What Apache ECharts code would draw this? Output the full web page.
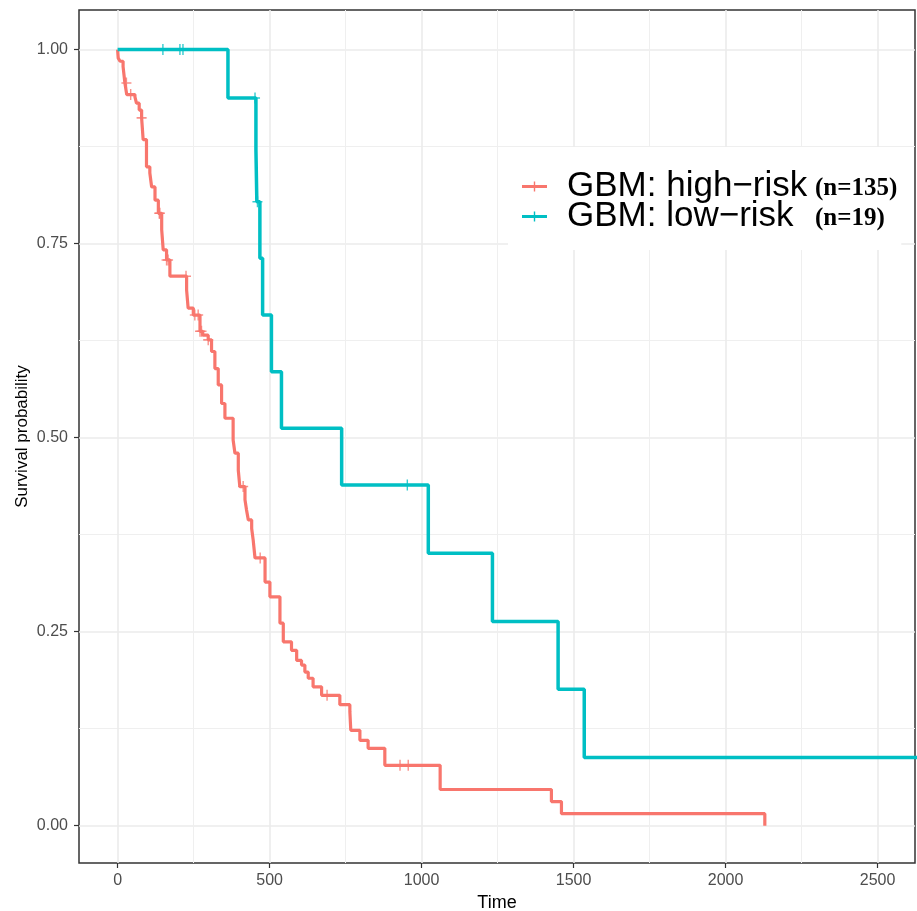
<!DOCTYPE html>
<html>
<head>
<meta charset="utf-8">
<script src="https://cdn.jsdelivr.net/npm/echarts@6/dist/echarts.min.js"></script>
<style>
  html, body { margin: 0; padding: 0; background: #fff; }
  #km { width: 917px; height: 911px; }
</style>
</head>
<body>
<div id="km"></div>
<script>
// axis ticks (major + ggplot-style minor grid)
const timeTicks = [0, 500, 1000, 1500, 2000, 2500];
const timeMinor = [250, 750, 1250, 1750, 2250];
const probTicks = [0, 0.25, 0.5, 0.75, 1];
const probMinor = [0.125, 0.375, 0.625, 0.875];

// GBM high-risk: event times and survival after each step
const highTimes = [2, 8, 18, 24, 30, 57, 62, 71, 79, 84, 95, 106, 112, 123, 134, 145, 150, 161, 172,
  227, 232, 249, 271, 280, 298, 309, 320, 331, 342, 353, 380, 386, 397, 402, 419, 424, 430, 441, 446,
  452, 485, 501, 534, 545, 572, 589, 605, 616, 627, 643, 671, 731, 764, 767, 797, 824, 879,
  1061, 1427, 1460, 2129];
const highSurv = [0.989, 0.985, 0.978, 0.957, 0.942, 0.939, 0.931, 0.922, 0.912, 0.884, 0.849, 0.841, 0.823, 0.806, 0.789, 0.768, 0.742, 0.729, 0.708,
  0.690, 0.667, 0.658, 0.637, 0.632, 0.626, 0.611, 0.589, 0.568, 0.544, 0.525, 0.497, 0.480, 0.458, 0.437, 0.420, 0.407, 0.394, 0.383, 0.368,
  0.345, 0.314, 0.295, 0.261, 0.237, 0.226, 0.213, 0.207, 0.198, 0.190, 0.179, 0.168, 0.156, 0.147, 0.123, 0.110, 0.0997, 0.0778,
  0.0467, 0.0311, 0.0156, 0];
const highCensor = [29, 43, 79, 137, 139, 161, 166, 225, 254, 265, 271, 276, 298, 413, 469, 689, 929, 956];

// GBM low-risk
const lowTimes = [363, 455, 458, 468, 477, 506, 539, 737, 1022, 1233, 1449, 1535];
const lowSurv = [0.9375, 0.871, 0.804, 0.731, 0.658, 0.585, 0.512, 0.439, 0.351, 0.263, 0.176, 0.088];
const lowCensor = [149, 205, 215, 452, 460, 953, 2700];

const groupNames = ['GBM: high\u2212risk', 'GBM: low\u2212risk'];
const groupN = ['(n=135)', '(n=19)'];
const groupColors = ['#F8766D', '#00BFC4'];

function survAt(times, surv, t) {
    let s = 1;
    for (let i = 0; i < times.length; i++) {
        if (times[i] <= t) s = surv[i];
    }
    return s;
}

function stepData(times, surv, censor) {
    const pts = [[0, 1]];
    times.forEach((t, i) => pts.push([t, surv[i]]));
    const lastT = Math.max(...censor);
    if (lastT > times[times.length - 1]) pts.push([lastT, surv[surv.length - 1]]);
    return pts;
}

function censorData(times, surv, censor) {
    return censor.map(t => [t, survAt(times, surv, t)]);
}

const plusMark = 'path://M0,4.3H10V5.7H0Z M4.3,0H5.7V10H4.3Z';
const legendIcon = 'path://M0,3.6H25V6.4H0Z M11.8,0H13.2V10H11.8Z';

const chart = echarts.init(document.getElementById('km'));

const labelStyle = { color: '#4d4d4d', fontSize: 16, fontFamily: 'Liberation Sans, Arial, sans-serif' };
const tickStyle = { show: true, length: 5, lineStyle: { color: '#333', width: 1.2 } };

chart.setOption({
    animation: false,
    grid: {
        left: 79, right: 2, top: 10, bottom: 48,
        outerBoundsMode: 'none',
        containLabel: false,
        show: true, borderColor: '#333', borderWidth: 1.5, backgroundColor: '#fff'
    },
    legend: {
        data: groupNames.map((n, i) => ({ name: n, icon: legendIcon, itemStyle: { color: groupColors[i] } })),
        orient: 'vertical',
        left: 508, top: 147,
        padding: [22, 4, 16, 14],
        itemGap: -5,
        itemWidth: 25, itemHeight: 10,
        backgroundColor: '#fff',
        selectedMode: false,
        formatter: name => `{a|${name}}{b|${groupN[groupNames.indexOf(name)]}}`,
        textStyle: {
            rich: {
                a: { fontSize: 35, fontFamily: 'Liberation Sans, Arial, sans-serif', color: '#000', width: 248, padding: [0, 0, 0, 15], lineHeight: 29 },
                b: { fontSize: 25, fontFamily: 'Liberation Serif, Times New Roman, serif', fontWeight: 'bold', color: '#000', lineHeight: 29, padding: [4, 0, 0, 0] }
            }
        }
    },
    xAxis: [{
        type: 'value', min: -127, max: 2623,
        name: 'Time', nameLocation: 'middle', nameGap: 31, nameMoveOverlap: false,
        nameTextStyle: { color: '#000', fontSize: 18, fontFamily: 'Liberation Sans, Arial, sans-serif' },
        axisLine: { show: false, onZero: false },
        axisTick: Object.assign({ customValues: timeTicks }, tickStyle),
        axisLabel: Object.assign({ customValues: timeTicks, margin: 10, formatter: v => String(v) }, labelStyle),
        splitLine: { show: true, lineStyle: { color: '#ebebeb', width: 1.6 } }
    }, {
        type: 'value', min: -127, max: 2623, position: 'top',
        axisLine: { show: false, onZero: false },
        axisTick: { show: false, customValues: timeMinor },
        axisLabel: { show: false, customValues: timeMinor },
        splitLine: { show: true, lineStyle: { color: '#efefef', width: 1 } }
    }],
    yAxis: [{
        type: 'value', min: -0.048, max: 1.051,
        name: 'Survival probability', nameLocation: 'middle', nameGap: 48, nameMoveOverlap: false,
        nameTextStyle: { color: '#000', fontSize: 17, fontFamily: 'Liberation Sans, Arial, sans-serif' },
        axisLine: { show: false, onZero: false },
        axisTick: Object.assign({ customValues: probTicks }, tickStyle),
        axisLabel: Object.assign({ customValues: probTicks, margin: 11, formatter: v => v.toFixed(2) }, labelStyle),
        splitLine: { show: true, lineStyle: { color: '#ebebeb', width: 1.6 } }
    }, {
        type: 'value', min: -0.048, max: 1.051, position: 'right',
        axisLine: { show: false, onZero: false },
        axisTick: { show: false, customValues: probMinor },
        axisLabel: { show: false, customValues: probMinor },
        splitLine: { show: true, lineStyle: { color: '#efefef', width: 1 } }
    }],
    series: [
        {
            name: groupNames[0], type: 'line', step: 'end', showSymbol: false,
            data: stepData(highTimes, highSurv, highCensor),
            lineStyle: { color: groupColors[0], width: 3.2 }, itemStyle: { color: groupColors[0] }
        },
        {
            name: groupNames[1], type: 'line', step: 'end', showSymbol: false,
            data: stepData(lowTimes, lowSurv, lowCensor),
            lineStyle: { color: groupColors[1], width: 3.5 }, itemStyle: { color: groupColors[1] }
        },
        {
            name: 'high censor', type: 'scatter', symbol: plusMark, symbolSize: [10, 11],
            data: censorData(highTimes, highSurv, highCensor),
            itemStyle: { color: groupColors[0] }
        },
        {
            name: 'low censor', type: 'scatter', symbol: plusMark, symbolSize: [10, 11],
            data: censorData(lowTimes, lowSurv, lowCensor),
            itemStyle: { color: groupColors[1] }
        }
    ]
});
</script>
</body>
</html>
